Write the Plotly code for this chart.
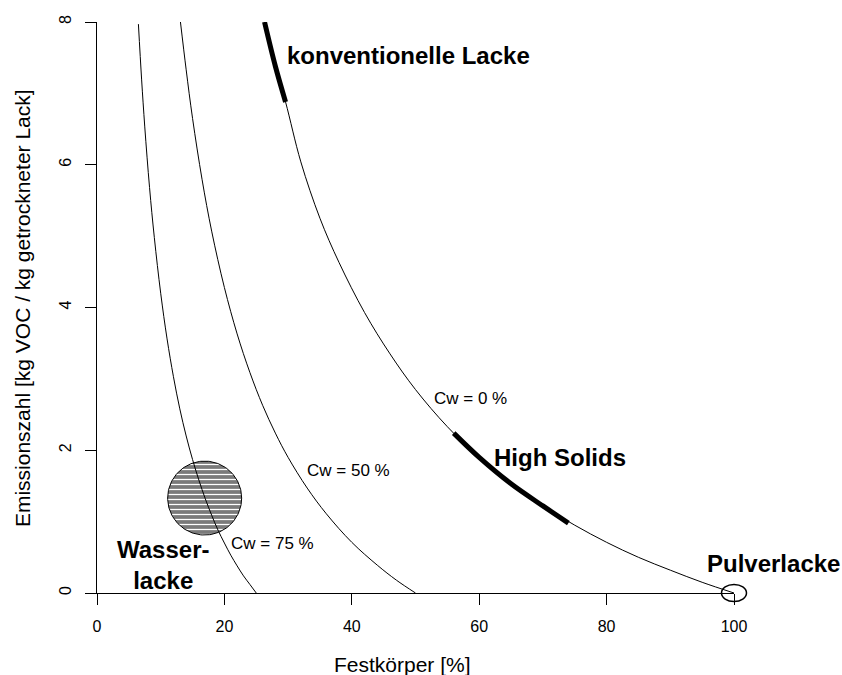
import numpy as np
import plotly.graph_objects as go

# Emission curves: Festkörper [%] vs. Emissionszahl [kg VOC / kg getrockneter Lack]
cw0_x = [26.3, 28, 29.6, 32, 35, 38, 42, 46, 50, 55, 60, 65, 70, 75, 80, 85, 90, 95, 100]
cw0_y = [8.00, 7.38, 6.88, 6.04, 5.25, 4.63, 3.93, 3.35, 2.85, 2.33, 1.90, 1.53, 1.22, 0.95, 0.71, 0.50, 0.32, 0.15, 0.00]

cw50_x = [13.1, 14, 15, 16.5, 18, 20, 22, 24, 26, 28, 30, 33, 36, 40, 44, 47, 50]
cw50_y = [8.00, 7.33, 6.65, 5.79, 5.07, 4.28, 3.63, 3.09, 2.63, 2.24, 1.90, 1.47, 1.11, 0.71, 0.39, 0.18, 0.00]

cw75_x = [6.5, 7, 7.5, 8.25, 9, 10, 11, 12, 13, 14, 15, 16, 17, 18, 19, 20, 21, 22, 23, 24, 25]
cw75_y = [7.97, 7.20, 6.53, 5.68, 4.98, 4.20, 3.56, 3.03, 2.58, 2.20, 1.87, 1.58, 1.32, 1.09, 0.88, 0.70, 0.53, 0.38, 0.24, 0.12, 0.00]

# Highlighted ranges on the Cw = 0 % curve
konv_x = [26.3, 28, 29.6]
konv_y = [8.00, 7.38, 6.88]
hs_x = [56, 60, 65, 70, 74]
hs_y = [2.24, 1.90, 1.53, 1.22, 0.98]

# Wasserlacke region (centre and radii in axis units)
wl_center = (16.9, 1.33)
wl_radius = (5.81, 0.518)

# Pulverlacke marker (centre and radii in axis units)
pl_center = (100.0, 0.0)
pl_radius = (1.96, 0.119)

x_range = [0, 100]
y_range = [0, 8]
x_ticks = [0, 20, 40, 60, 80, 100]
y_ticks = [0, 2, 4, 6, 8]

FONT = "Liberation Sans, Arial, Helvetica, sans-serif"

fig = go.Figure()

# Wasserlacke hatched circle
t = np.linspace(0, 2 * np.pi, 181)
fig.add_trace(go.Scatter(
    x=wl_center[0] + wl_radius[0] * np.cos(t),
    y=wl_center[1] + wl_radius[1] * np.sin(t),
    mode="lines", fill="toself",
    fillcolor="#7a7a7a",
    fillpattern=dict(shape="-", bgcolor="#7a7a7a", fgcolor="white",
                     fgopacity=1, size=5, solidity=0.25),
    line=dict(color="black", width=1),
    hoverinfo="skip", showlegend=False,
))

for xs, ys in [(cw0_x, cw0_y), (cw50_x, cw50_y), (cw75_x, cw75_y)]:
    fig.add_trace(go.Scatter(
        x=xs, y=ys, mode="lines", line=dict(color="black", width=1, shape="spline"),
        showlegend=False, hoverinfo="skip",
    ))

for xs, ys in [(konv_x, konv_y), (hs_x, hs_y)]:
    fig.add_trace(go.Scatter(
        x=xs, y=ys, mode="lines", line=dict(color="black", width=5, shape="spline"),
        showlegend=False, hoverinfo="skip",
    ))


def dom(v, rng):
    return (v - rng[0]) / (rng[1] - rng[0])


# Pulverlacke ellipse (domain-referenced so it can extend past the axes)
fig.add_shape(
    type="circle", xref="x domain", yref="y domain",
    x0=dom(pl_center[0] - pl_radius[0], x_range), x1=dom(pl_center[0] + pl_radius[0], x_range),
    y0=dom(pl_center[1] - pl_radius[1], y_range), y1=dom(pl_center[1] + pl_radius[1], y_range),
    line=dict(color="black", width=1.5), layer="above",
)

# Curve labels
curve_labels = [
    ("Cw = 0 %", 52.6, 2.72),
    ("Cw = 50 %", 32.65, 1.71),
    ("Cw = 75 %", 20.7, 0.70),
]
for txt, x, y in curve_labels:
    fig.add_annotation(text=txt, x=x, y=y, xref="x", yref="y", xanchor="left",
                       yanchor="middle", showarrow=False,
                       font=dict(family=FONT, size=17, color="black"))

group_labels = [
    ("konventionelle Lacke", 29.5, 7.53, "left"),
    ("High Solids", 62.0, 1.90, "left"),
    ("Pulverlacke", 95.4, 0.42, "left"),
    ("Wasser-<br>lacke", 10.3, 0.39, "center"),
]
for txt, x, y, anchor in group_labels:
    fig.add_annotation(text="<b>" + txt + "</b>", x=x, y=y, xref="x", yref="y",
                       xanchor=anchor, yanchor="middle", align="center",
                       showarrow=False,
                       font=dict(family=FONT, size=24, color="black"))

# Axis titles
fig.add_annotation(text="Festkörper [%]", x=0.479, y=-0.126, xref="paper", yref="paper",
                   xanchor="center", yanchor="middle", showarrow=False,
                   font=dict(family=FONT, size=21, color="black"))
fig.add_annotation(text="Emissionszahl [kg VOC / kg getrockneter Lack]", x=-0.1177, y=0.499,
                   xref="paper", yref="paper", xanchor="center", yanchor="middle",
                   textangle=-90, showarrow=False,
                   font=dict(family=FONT, size=21, color="black"))

axis_common = dict(
    showgrid=False, zeroline=False, showline=True, linecolor="black", linewidth=1,
    ticks="outside", ticklen=11, tickcolor="black", tickwidth=1,
    tickfont=dict(family=FONT, size=16, color="black"),
)
fig.update_xaxes(range=x_range, tickvals=x_ticks, ticklabelstandoff=8, **axis_common)
fig.update_yaxes(range=y_range, tickvals=y_ticks, tickangle=-90, ticklabelstandoff=8, **axis_common)

fig.update_layout(
    width=842, height=675,
    margin=dict(l=97, r=108, t=22, b=82),
    paper_bgcolor="white", plot_bgcolor="white",
    font=dict(family=FONT, color="black"),
    showlegend=False,
)

fig.write_html("out.html")
